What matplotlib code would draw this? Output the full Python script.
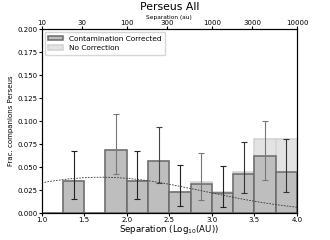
import numpy as np
import matplotlib
matplotlib.use('Agg')
import matplotlib.pyplot as plt

# bin edges in log10(AU)
bin_left = [1.0, 1.25, 1.5, 1.75, 2.0, 2.25, 2.5, 2.75, 3.0, 3.25, 3.5, 3.75]
bin_width = 0.25

# fraction of companions
frac_corrected = [0.0, 0.035, 0.0, 0.069, 0.035, 0.057, 0.023, 0.032, 0.022, 0.043, 0.062, 0.045]
frac_nocorr = [0.0, 0.035, 0.0, 0.069, 0.035, 0.057, 0.023, 0.034, 0.023, 0.045, 0.081, 0.081]

# error bars (lower / upper limits) at bin centres
err_x = [1.375, 1.875, 2.125, 2.375, 2.625, 2.875, 3.125, 3.375, 3.625, 3.875]
err_lo = [0.015, 0.042, 0.015, 0.033, 0.008, 0.014, 0.007, 0.022, 0.036, 0.023]
err_hi = [0.067, 0.108, 0.067, 0.094, 0.052, 0.065, 0.051, 0.077, 0.100, 0.080]
err_mid = [0.035, 0.069, 0.035, 0.057, 0.023, 0.032, 0.022, 0.043, 0.062, 0.045]
err_color = ['#222222', '#777777', '#222222', '#444444', '#222222',
             '#777777', '#222222', '#333333', '#777777', '#333333']

# log-normal model curve parameters
model_amp = 0.039
model_mu = 1.7
model_sigma = 1.21

top_ticks = [10, 30, 100, 300, 1000, 3000, 10000]

fig = plt.figure(figsize=(3.3, 2.4), dpi=100)
ax = fig.add_axes([0.126, 0.112, 0.774, 0.767])

ax.bar(bin_left, frac_nocorr, width=bin_width, align='edge',
       color='#e3e3e3', edgecolor='#d4d4d4', linewidth=1.2, label='No Correction')
ax.bar(bin_left, frac_corrected, width=bin_width, align='edge',
       color='#bebebe', edgecolor='#6a6a6a', linewidth=1.1, label='Contamination Corrected')

for x, m, lo, hi, c in zip(err_x, err_mid, err_lo, err_hi, err_color):
    ax.errorbar([x], [m], yerr=[[m - lo], [hi - m]], fmt='none', ecolor=c,
                elinewidth=0.8, capsize=2, capthick=0.8)

xs = np.linspace(1.0, 4.0, 200)
ax.plot(xs, model_amp * np.exp(-(xs - model_mu) ** 2 / (2 * model_sigma ** 2)),
        color='#333333', linestyle='--', linewidth=0.6, dashes=(2, 1.5))

ax.set_xlim(1.0, 4.0)
ax.set_ylim(0.0, 0.2)
ax.set_xticks([1.0, 1.5, 2.0, 2.5, 3.0, 3.5, 4.0])
ax.set_yticks([0.0, 0.025, 0.05, 0.075, 0.1, 0.125, 0.15, 0.175, 0.2])
ax.tick_params(labelsize=5, length=2, pad=1)
ax.set_xlabel('Separation (Log$_{10}$(AU))', fontsize=6.2, labelpad=0)
ax.set_ylabel('Frac. companions Perseus', fontsize=5, labelpad=2)

handles, labels = ax.get_legend_handles_labels()
ax.legend(handles[::-1], labels[::-1], loc='upper left', fontsize=5.3,
          handlelength=2.0, handleheight=0.6, borderpad=0.5, labelspacing=0.5,
          borderaxespad=0.4)

ax2 = ax.twiny()
ax2.set_xlim(1.0, 4.0)
ax2.set_xticks(np.log10(top_ticks))
ax2.set_xticklabels([str(t) for t in top_ticks])
ax2.tick_params(labelsize=5, length=2, pad=0)
ax2.set_xlabel('Separation (au)', fontsize=4.2, labelpad=1)
ax.set_title('Perseus All', fontsize=7.8, pad=14)

plt.savefig('out.png', dpi=100)
plt.close()
